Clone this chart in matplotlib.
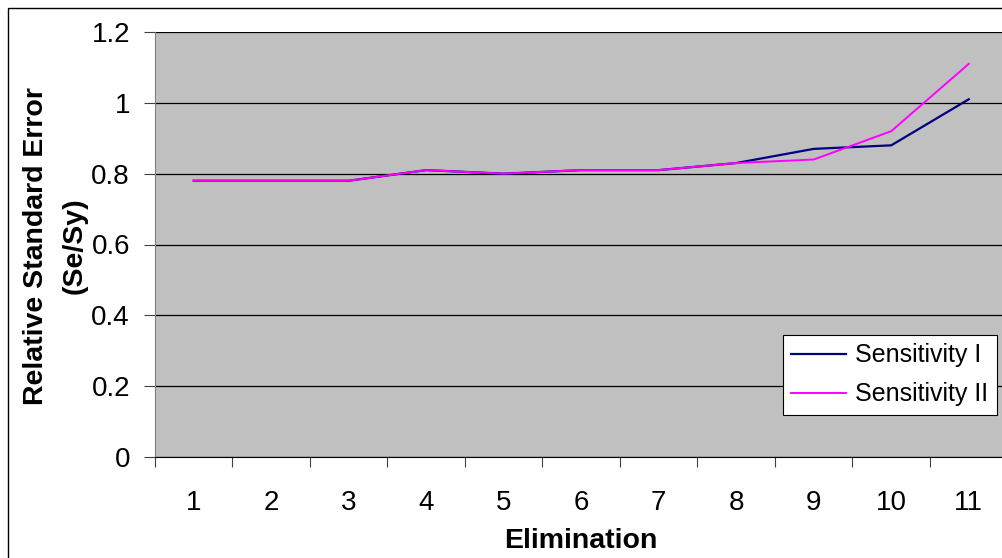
import matplotlib.pyplot as plt
from matplotlib.patches import Rectangle

plt.rcParams['font.family'] = ['Liberation Sans', 'DejaVu Sans']

eliminations = ['1', '2', '3', '4', '5', '6', '7', '8', '9', '10', '11']
sensitivity_1 = [0.78, 0.78, 0.78, 0.81, 0.80, 0.81, 0.81, 0.83, 0.87, 0.88, 1.01]
sensitivity_2 = [0.78, 0.78, 0.78, 0.81, 0.80, 0.81, 0.81, 0.83, 0.84, 0.92, 1.11]
y_ticks = [0, 0.2, 0.4, 0.6, 0.8, 1.0, 1.2]
y_tick_labels = ['0', '0.2', '0.4', '0.6', '0.8', '1', '1.2']

W, H = 1003, 558
fig = plt.figure(figsize=(W / 100, H / 100), dpi=100)
fig.patch.set_facecolor('white')


def fx(px):
    return px / W


def fy(px):
    # pixel row (from top) -> figure fraction
    return 1 - px / H


# outer chart frame, runs off the right and bottom edges
fig.patches.append(Rectangle((fx(8), -0.1), 1.2, fy(8) + 0.1,
                             transform=fig.transFigure, fill=False,
                             edgecolor='black', linewidth=1.0, clip_on=False))

left, right, bottom, top = 155, 1007.5, 457, 32
ax = fig.add_axes([fx(left), fy(bottom), (right - left) / W, (bottom - top) / H])
ax.set_facecolor('#c0c0c0')

x = list(range(1, len(eliminations) + 1))
ax.plot(x, sensitivity_1, color='#000080', linewidth=1.6, label='Sensitivity I', zorder=3)
ax.plot(x, sensitivity_2, color='#ff00ff', linewidth=1.4, label='Sensitivity II', zorder=4)

ax.set_xlim(0.5, len(eliminations) + 0.5)
ax.set_ylim(0, 1.2)

ax.set_yticks(y_ticks)
ax.set_yticklabels(y_tick_labels, fontsize=20)
ax.yaxis.grid(True, color='black', linewidth=0.9)
ax.set_axisbelow(True)

# category ticks sit between the labels
ax.set_xticks([i + 0.5 for i in range(0, len(eliminations) + 1)])
ax.set_xticklabels([])
ax.set_xticks(x, minor=True)
ax.set_xticklabels(eliminations, minor=True, fontsize=20)
ax.tick_params(axis='x', which='minor', length=0, pad=24)
ax.tick_params(axis='x', which='major', direction='out', length=7, width=0.8, color='#404040')
ax.tick_params(axis='y', direction='out', length=8, width=0.8, color='#404040', pad=10)

for s in ['top', 'right']:
    ax.spines[s].set_visible(False)
ax.spines['left'].set_color('#808080')
ax.spines['bottom'].set_color('black')

# axis titles
fig.text(fx((left + right) / 2), fy(548), 'Elimination', fontsize=20.5,
         fontweight='bold', ha='center', va='baseline')
fig.text(fx(43), fy(246), 'Relative Standard Error', fontsize=20.5, fontweight='bold',
         rotation=90, rotation_mode='anchor', ha='center', va='baseline')
fig.text(fx(82), fy(246), '(Se/Sy)', fontsize=20.5, fontweight='bold',
         rotation=90, rotation_mode='anchor', ha='center', va='baseline')

leg = ax.legend(loc='lower right', bbox_to_anchor=(fx(997), fy(415)),
                bbox_transform=fig.transFigure, fontsize=18, frameon=True,
                fancybox=False, framealpha=1, edgecolor='black',
                handlelength=2.2, borderpad=0.35, labelspacing=0.6,
                handletextpad=0.35, borderaxespad=0)
leg.get_frame().set_linewidth(0.8)

fig.savefig('out.png', dpi=100)
